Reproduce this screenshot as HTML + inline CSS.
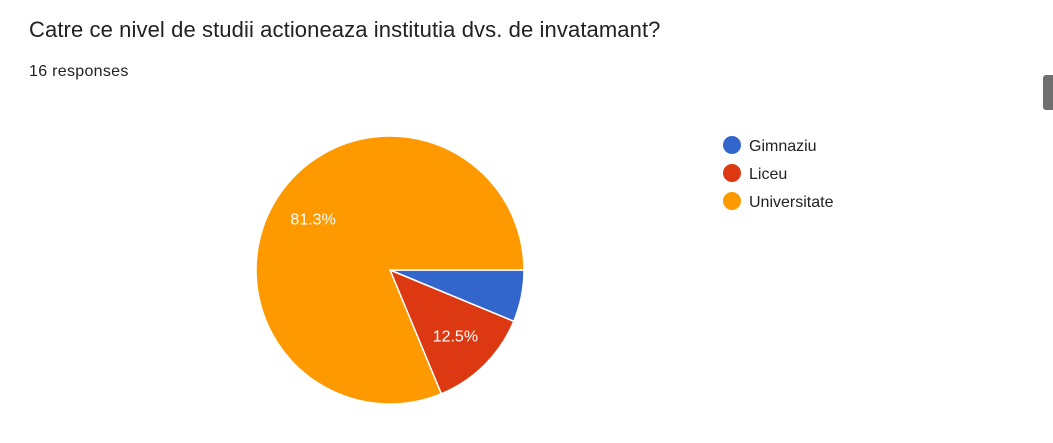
<!DOCTYPE html>
<html><head><meta charset="utf-8"><style>
body{margin:0;width:1053px;height:443px;background:#fff;overflow:hidden;position:relative;font-family:"Liberation Sans",Arial,sans-serif}
.title{position:absolute;left:29px;top:17px;font-size:22px;color:#202124;letter-spacing:0.1px}
.resp{position:absolute;left:29px;top:63px;font-size:16px;color:#202124;letter-spacing:0.3px}
.scroll{position:absolute;left:1043px;top:75px;width:14px;height:35px;background:#6f6f6f;border-radius:3px}
</style></head><body>
<div class="title">Catre ce nivel de studii actioneaza institutia dvs. de invatamant?</div>
<div class="resp">16 responses</div>
<div class="scroll"></div>
<svg id="chart" width="1053" height="443" style="position:absolute;left:0;top:0"></svg>
<script>
const categories=["Gimnaziu","Liceu","Universitate"];
const values=[1,2,13];
const colors=["#3366cc","#dc3912","#ff9900"];
const svg=document.getElementById('chart');
const NS="http://www.w3.org/2000/svg";
const cx=390,cy=270,r=134;
const total=values.reduce((a,b)=>a+b,0);
let a0=0;
values.forEach((v,i)=>{
  const frac=v/total, a1=a0+frac*2*Math.PI;
  const x0=cx+r*Math.cos(a0),y0=cy+r*Math.sin(a0),x1=cx+r*Math.cos(a1),y1=cy+r*Math.sin(a1);
  const p=document.createElementNS(NS,'path');
  p.setAttribute('d',`M${cx},${cy} L${x0},${y0} A${r},${r} 0 ${frac>0.5?1:0} 1 ${x1},${y1} Z`);
  p.setAttribute('fill',colors[i]);p.setAttribute('stroke','#fff');p.setAttribute('stroke-width','1.5');
  
  
  svg.appendChild(p);
  if(frac>=0.1){
    const am=(a0+a1)/2, lr=r*0.69;
    const t=document.createElementNS(NS,'text');
    t.setAttribute('x',cx+lr*Math.cos(am));t.setAttribute('y',cy+lr*Math.sin(am)+6);
    t.setAttribute('text-anchor','middle');t.setAttribute('fill','#fff');t.setAttribute('font-size','16');
    t.setAttribute('font-family','Liberation Sans, Arial, sans-serif');
    t.textContent=(frac*100).toFixed(1)+'%';
    
    
    svg.appendChild(t);
  }
  a0=a1;
});
categories.forEach((c,i)=>{
  const y=145+i*28;
  const g=document.createElementNS(NS,'g');
  
  
  const ci=document.createElementNS(NS,'circle');
  ci.setAttribute('cx',732);ci.setAttribute('cy',y);ci.setAttribute('r',9);ci.setAttribute('fill',colors[i]);
  const t=document.createElementNS(NS,'text');
  t.setAttribute('x',749);t.setAttribute('y',y+6);t.setAttribute('font-size','16');t.setAttribute('fill','#222');
  t.setAttribute('font-family','Liberation Sans, Arial, sans-serif');t.textContent=c;
  g.appendChild(ci);g.appendChild(t);svg.appendChild(g);
});
</script>
</body></html>
